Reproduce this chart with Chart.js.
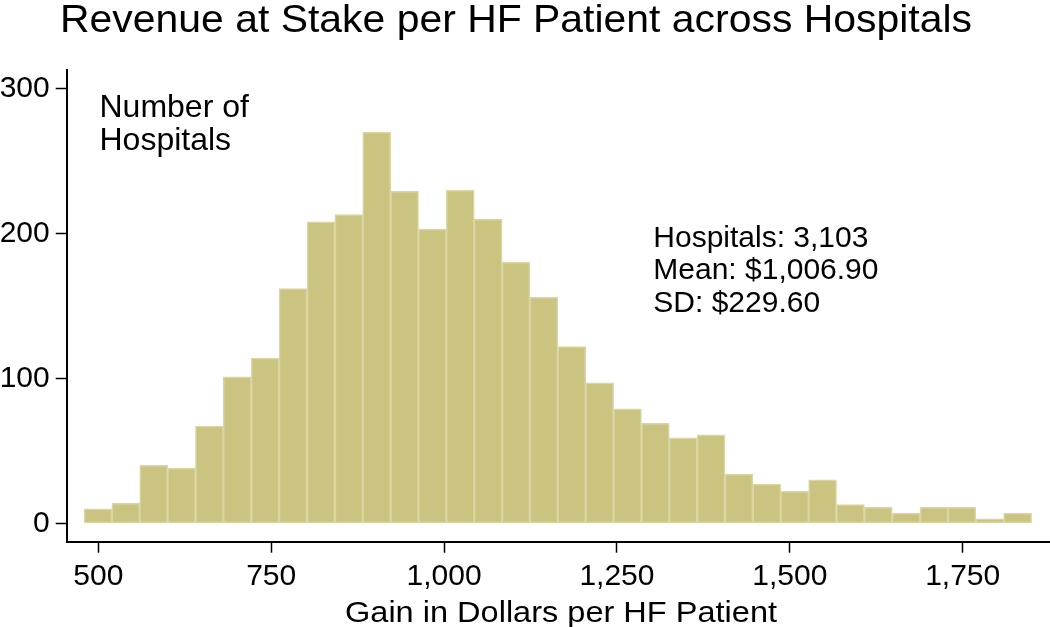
<!DOCTYPE html>
<html>
<head>
<meta charset="utf-8">
<script src="https://cdn.jsdelivr.net/npm/chart.js@4.4.1/dist/chart.umd.min.js"></script>
<style>
  html, body { margin: 0; padding: 0; background: #ffffff; }
  #wrap { width: 1050px; height: 627px; position: relative; }
</style>
</head>
<body>
<div id="wrap"><canvas id="c" width="1050" height="627"></canvas></div>
<script>
// ---- data ----
const binCenters = [499.5, 539.8, 580.1, 620.4, 660.7, 701.0, 741.3, 781.6, 822.0, 862.3,
                    902.6, 942.9, 983.2, 1023.5, 1063.8, 1104.1, 1144.4, 1184.7, 1225.0, 1265.3,
                    1305.6, 1345.9, 1386.2, 1426.5, 1466.8, 1507.1, 1547.4, 1587.7, 1628.0, 1668.3,
                    1708.6, 1748.9, 1789.2, 1829.5];
const hospitalCounts = [10, 14, 40, 38, 67, 101, 114, 162, 208, 213,
                        270, 229, 203, 230, 210, 180, 156, 122, 97, 79,
                        69, 59, 61, 34, 27, 22, 30, 13, 11, 7,
                        11, 11, 3, 7];
const xTickValues = [500, 750, 1000, 1250, 1500, 1750];
const yTickValues = [0, 100, 200, 300];
const titleText = 'Revenue at Stake per HF Patient across Hospitals';
const xAxisTitle = 'Gain in Dollars per HF Patient';
const yAxisNote = ['Number of', 'Hospitals'];
const statsLines = ['Hospitals: 3,103', 'Mean: $1,006.90', 'SD: $229.60'];

const FONT = '"Liberation Sans", Arial, sans-serif';

const textPlugin = {
  id: 'texts',
  afterDraw(chart) {
    const ctx = chart.ctx;
    ctx.save();
    ctx.fillStyle = '#000';
    ctx.textBaseline = 'alphabetic';
    ctx.textAlign = 'left';
    // title
    ctx.font = '38.5px ' + FONT;
    let w = ctx.measureText(titleText).width;
    ctx.save();
    ctx.translate(60, 31.7);
    ctx.scale(912 / w, 1);
    ctx.fillText(titleText, 0, 0);
    ctx.restore();
    // axis title
    ctx.font = '30px ' + FONT;
    w = ctx.measureText(xAxisTitle).width;
    ctx.save();
    ctx.translate(345, 621.7);
    ctx.scale(432 / w, 1);
    ctx.fillText(xAxisTitle, 0, 0);
    ctx.restore();
    // y note
    ctx.font = '32px ' + FONT;
    ctx.fillText(yAxisNote[0], 99.5, 116.7);
    ctx.fillText(yAxisNote[1], 99.5, 150);
    // stats
    ctx.font = '30px ' + FONT;
    statsLines.forEach((s, i) => ctx.fillText(s, 653.3, 246.7 + i * 32.5));
    ctx.restore();
  }
};

new Chart(document.getElementById('c'), {
  type: 'bar',
  data: {
    datasets: [{
      data: binCenters.map((x, i) => ({ x: x, y: hospitalCounts[i] })),
      backgroundColor: '#CBC481',
      borderColor: '#DAD5A2',
      borderWidth: 1.5,
      borderSkipped: false,
      barPercentage: 1,
      categoryPercentage: 1
    }]
  },
  options: {
    responsive: false,
    animation: false,
    devicePixelRatio: 1,
    layout: { padding: { top: 70, right: 0, left: 0, bottom: 0 } },
    plugins: { legend: { display: false }, title: { display: false }, tooltip: { enabled: false } },
    scales: {
      x: {
        type: 'linear',
        min: 454.3,
        max: 1876.3,
        offset: false,
        afterBuildTicks(scale) { scale.ticks = xTickValues.map(v => ({ value: v })); },
        afterFit(scale) { scale.height = 85.3; },
        grid: { drawOnChartArea: false, drawTicks: true, tickLength: 11, tickWidth: 1.5, tickColor: '#000', offset: false },
        border: { display: true, color: '#000', width: 2 },
        ticks: {
          color: '#000',
          padding: 6,
          maxRotation: 0,
          autoSkip: false,
          font: { family: FONT, size: 30 },
          callback: v => v.toLocaleString('en-US')
        }
      },
      y: {
        type: 'linear',
        min: -12.7,
        max: 312.8,
        afterBuildTicks(scale) { scale.ticks = yTickValues.map(v => ({ value: v })); },
        afterFit(scale) { scale.width = 66.7; },
        grid: { drawOnChartArea: false, drawTicks: true, tickLength: 11, tickWidth: 1.5, tickColor: '#000' },
        border: { display: true, color: '#000', width: 2 },
        ticks: {
          color: '#000',
          padding: 6,
          autoSkip: false,
          font: { family: FONT, size: 30 },
          callback: v => v.toLocaleString('en-US')
        }
      }
    }
  },
  plugins: [textPlugin]
});
</script>
</body>
</html>
